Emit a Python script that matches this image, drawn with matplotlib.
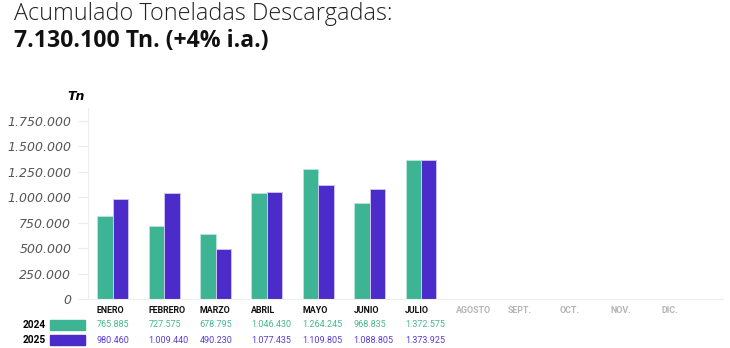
import matplotlib.pyplot as plt
from matplotlib.patches import Rectangle

months = ["ENERO", "FEBRERO", "MARZO", "ABRIL", "MAYO", "JUNIO", "JULIO",
          "AGOSTO", "SEPT.", "OCT.", "NOV.", "DIC."]
# bar heights as drawn in the chart (Tn)
bars_2024 = [819000, 715000, 639000, 1042000, 1278000, 941000, 1370000]
bars_2025 = [986000, 1042000, 492000, 1055000, 1121000, 1082000, 1370000]
# figures printed in the table under the chart
labels_2024 = ["765.885", "727.575", "678.795", "1.046.430", "1.264.245", "968.835", "1.372.575"]
labels_2025 = ["980.460", "1.009.440", "490.230", "1.077.435", "1.109.805", "1.088.805", "1.373.925"]
yticks = [0, 250000, 500000, 750000, 1000000, 1250000, 1500000, 1750000]

green = "#3db594"
purple = "#4b2bc9"
narrow = ["Roboto", "DejaVu Sans"]

fig = plt.figure(figsize=(7.3, 3.48), dpi=100)
ax = fig.add_axes([88 / 730, 1 - 299 / 348, (723 - 88) / 730, (299 - 108) / 348])

x = list(range(len(bars_2024)))
w = 0.30
ax.bar([i - w / 2 for i in x], bars_2024, width=w, color=green,
       edgecolor="#b8e4d5", linewidth=0.7)
ax.bar([i + w / 2 for i in x], bars_2025, width=w, color=purple,
       edgecolor="#cdc3f2", linewidth=0.7)

ax.set_xlim(-0.483, 11.88)
ax.set_ylim(0, 1878000)
ax.set_xticks([])
ax.set_yticks(yticks)
ax.set_yticklabels([f"{v:,.0f}".replace(",", ".") for v in yticks],
                   fontstyle="italic", fontsize=9, color="#555555")
ax.tick_params(axis="y", length=7, width=0.8, color="#ececec", pad=5)
for side in ["top", "right"]:
    ax.spines[side].set_visible(False)
for side in ["left", "bottom"]:
    ax.spines[side].set_color("#eeeeee")
    ax.spines[side].set_linewidth(0.8)

fig.text(85 / 730, 1 - 97 / 348, "Tn", ha="right", va="center",
         fontstyle="italic", fontweight="bold", fontsize=9)

# table under the chart
tr = ax.get_xaxis_transform()
for i, m in enumerate(months):
    col = "#111111" if i < len(bars_2024) else "#b5b5b5"
    ax.text(i - 0.31, -0.061, m, transform=tr, ha="left", va="center",
            family=narrow, fontweight="bold", fontsize=6.4, color=col)
for i, (a, b) in enumerate(zip(labels_2024, labels_2025)):
    ax.text(i - 0.31, -0.136, a, transform=tr, ha="left", va="center",
            family=narrow, fontsize=6.5, color="#45b88f")
    ax.text(i - 0.31, -0.215, b, transform=tr, ha="left", va="center",
            family=narrow, fontsize=6.5, color="#5a3cd4")

for yr, yc, c in [("2024", 325, green), ("2025", 340, purple)]:
    fig.text(23 / 730, 1 - yc / 348, yr, ha="left", va="center",
             family=narrow, fontweight="bold", fontsize=7.3)
    fig.patches.append(Rectangle((50 / 730, 1 - (yc + 5) / 348), 35 / 730, 10 / 348,
                                 transform=fig.transFigure, color=c))

fig.text(14 / 730, 1 - 20 / 348, "Acumulado Toneladas Descargadas:",
         family=["Open Sans", "DejaVu Sans"], fontweight="light", fontsize=16.8,
         va="baseline", ha="left", color="#222222")
fig.text(14 / 730, 1 - 46.7 / 348, "7.130.100 Tn. (+4% i.a.)",
         family=["Open Sans", "DejaVu Sans"], fontweight="bold", fontsize=16.6,
         va="baseline", ha="left", color="#111111")

fig.savefig("out.png", dpi=100)
